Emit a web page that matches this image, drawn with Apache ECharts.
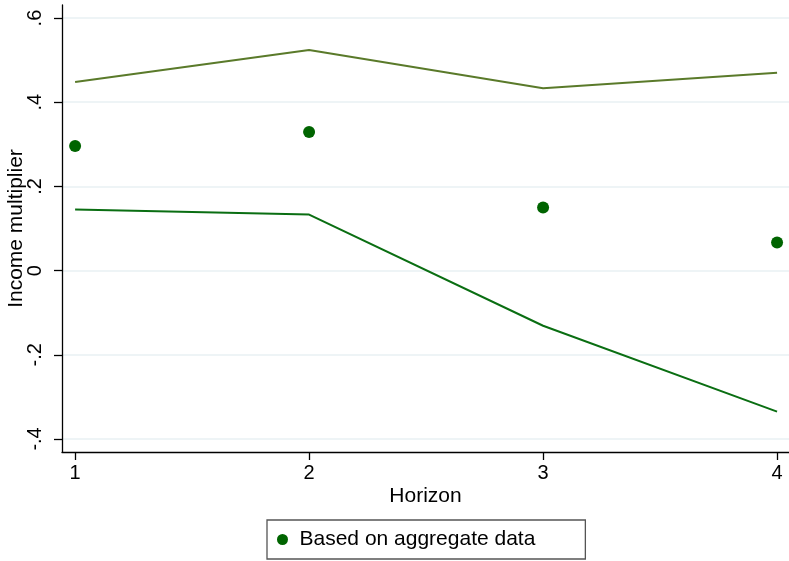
<!DOCTYPE html>
<html>
<head>
<meta charset="utf-8">
<script src="https://cdn.jsdelivr.net/npm/echarts@6/dist/echarts.min.js"></script>
<style>
html,body{margin:0;padding:0;background:#fff;}
#c{width:789px;height:561px;}
</style>
</head>
<body>
<div id="c"></div>
<script>
var horizon = [1, 2, 3, 4];
var estimate = [0.296, 0.329, 0.150, 0.067];
var upperBand = [0.448, 0.524, 0.433, 0.470];
var lowerBand = [0.145, 0.133, -0.131, -0.335];
var yTicks = [-0.4, -0.2, 0, 0.2, 0.4, 0.6];
var xTicks = [1, 2, 3, 4];

function pairs(xs, ys) { return xs.map(function (x, i) { return [x, ys[i]]; }); }
function fmtY(v) {
  if (Math.abs(v) < 1e-9) return '0';
  return String(+v.toFixed(1)).replace('0.', '.');
}
var FONT = 'Liberation Sans, Arial, sans-serif';
var chart = echarts.init(document.getElementById('c'));
chart.setOption({
  backgroundColor: '#fff',
  animation: false,
  grid: { left: 62, right: 0, top: 5, bottom: 109, containLabel: false, outerBoundsMode: 'none' },
  xAxis: {
    type: 'value', min: 0.944, max: 4.051,
    name: 'Horizon', nameLocation: 'middle', nameGap: 34, nameMoveOverlap: false,
    nameTextStyle: { fontFamily: FONT, fontSize: 21, color: '#000' },
    axisLine: { show: true, onZero: false, lineStyle: { color: '#000', width: 1.3 } },
    axisTick: { show: true, length: 8, customValues: xTicks, lineStyle: { color: '#000', width: 1.3 } },
    axisLabel: { customValues: xTicks, margin: 11, fontFamily: FONT, fontSize: 20, color: '#000', formatter: function (v) { return String(v); } },
    splitLine: { show: false }
  },
  yAxis: {
    type: 'value', min: -0.431, max: 0.631,
    name: 'Income multiplier', nameLocation: 'middle', nameGap: 46, nameRotate: 90, nameMoveOverlap: false,
    nameTextStyle: { fontFamily: FONT, fontSize: 21, color: '#000', verticalAlign: 'middle' },
    axisLine: { show: true, onZero: false, lineStyle: { color: '#000', width: 1.3 } },
    axisTick: { show: true, length: 8, customValues: yTicks, lineStyle: { color: '#000', width: 1.3 } },
    axisLabel: { customValues: yTicks, rotate: 90, margin: 17, fontFamily: FONT, fontSize: 20, color: '#000', formatter: fmtY },
    splitLine: { show: true, lineStyle: { color: '#e9f1f3', width: 1.5 } }
  },
  legend: {
    data: ['Based on aggregate data'],
    left: 267, top: 520,
    padding: [9, 50, 9, 10],
    borderColor: '#555', borderWidth: 1.3,
    icon: 'circle', itemWidth: 24, itemHeight: 11,
    itemStyle: { opacity: 1 },
    textStyle: { fontFamily: FONT, fontSize: 21, color: '#000' }
  },
  series: [
    {
      name: 'Upper', type: 'line', data: pairs(horizon, upperBand),
      symbol: 'none', lineStyle: { color: '#5a7a2a', width: 2 }, itemStyle: { color: '#5a7a2a' }, z: 2
    },
    {
      name: 'Lower', type: 'line', data: pairs(horizon, lowerBand),
      symbol: 'none', lineStyle: { color: '#0a6e12', width: 2 }, itemStyle: { color: '#0a6e12' }, z: 2
    },
    {
      name: 'Based on aggregate data', type: 'scatter', data: pairs(horizon, estimate),
      symbol: 'circle', symbolSize: 12, itemStyle: { color: '#006400', opacity: 1 }, z: 3
    }
  ]
});
</script>
</body>
</html>
